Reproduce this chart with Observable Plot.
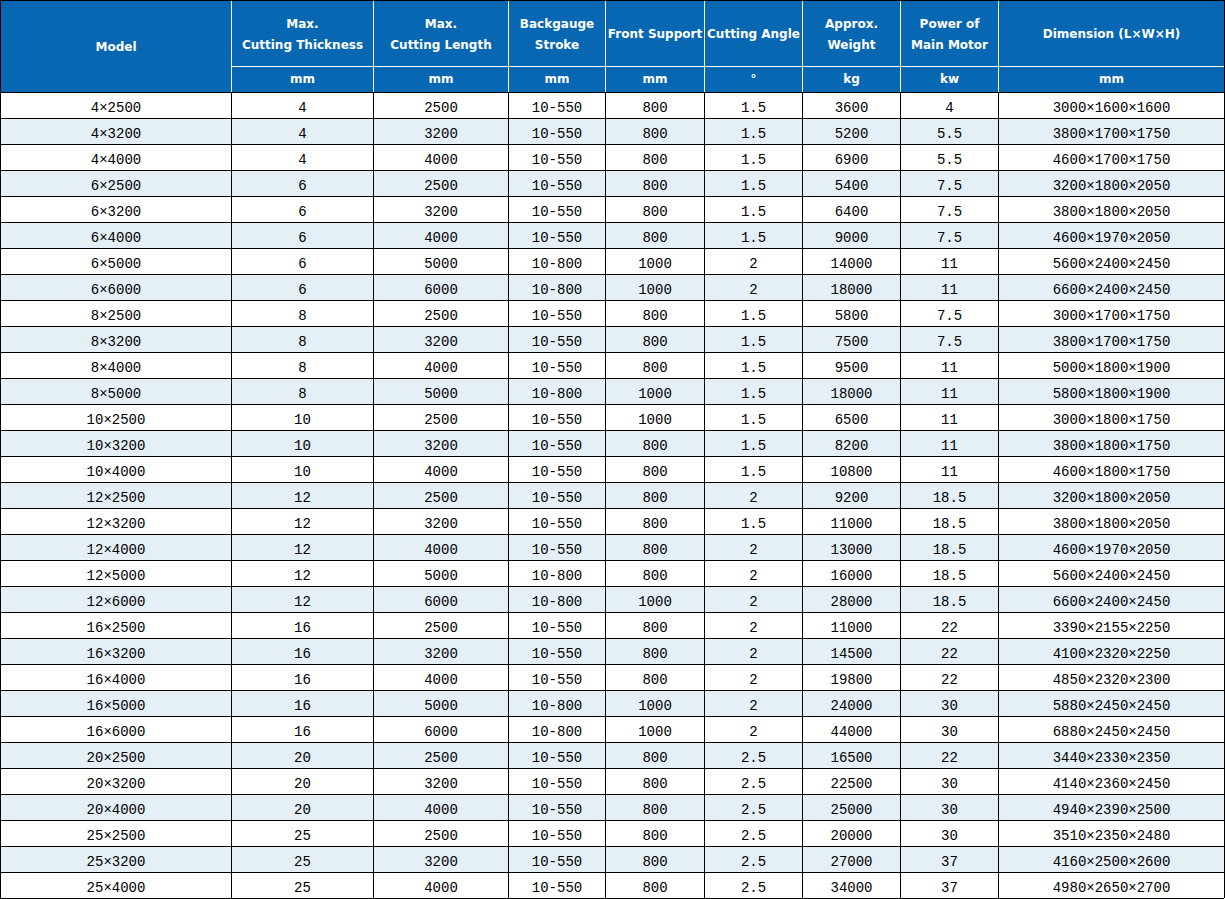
<!DOCTYPE html>
<html>
<head>
<meta charset="utf-8">
<script src="https://cdn.jsdelivr.net/npm/d3@7"></script>
<script src="https://cdn.jsdelivr.net/npm/@observablehq/plot@0.6"></script>
<style>
html,body{margin:0;padding:0;background:#fff;}
#chart svg{display:block;}
</style>
</head>
<body>
<div id="chart"></div>
<script>
// ---- data ----
const headers = ["Model", "Max.\nCutting Thickness", "Max.\nCutting Length", "Backgauge\nStroke", "Front Support", "Cutting Angle", "Approx.\nWeight", "Power of\nMain Motor", "Dimension (L×W×H)"];
const units = ["", "mm", "mm", "mm", "mm", "°", "kg", "kw", "mm"];
const models = ["4×2500","4×3200","4×4000","6×2500","6×3200","6×4000","6×5000","6×6000","8×2500","8×3200","8×4000","8×5000","10×2500","10×3200","10×4000","12×2500","12×3200","12×4000","12×5000","12×6000","16×2500","16×3200","16×4000","16×5000","16×6000","20×2500","20×3200","20×4000","25×2500","25×3200","25×4000"];
const thickness = ["4","4","4","6","6","6","6","6","8","8","8","8","10","10","10","12","12","12","12","12","16","16","16","16","16","20","20","20","25","25","25"];
const cutLength = ["2500","3200","4000","2500","3200","4000","5000","6000","2500","3200","4000","5000","2500","3200","4000","2500","3200","4000","5000","6000","2500","3200","4000","5000","6000","2500","3200","4000","2500","3200","4000"];
const backgauge = ["10-550","10-550","10-550","10-550","10-550","10-550","10-800","10-800","10-550","10-550","10-550","10-800","10-550","10-550","10-550","10-550","10-550","10-550","10-800","10-800","10-550","10-550","10-550","10-800","10-800","10-550","10-550","10-550","10-550","10-550","10-550"];
const frontSupport = ["800","800","800","800","800","800","1000","1000","800","800","800","1000","1000","800","800","800","800","800","800","1000","800","800","800","1000","1000","800","800","800","800","800","800"];
const cutAngle = ["1.5","1.5","1.5","1.5","1.5","1.5","2","2","1.5","1.5","1.5","1.5","1.5","1.5","1.5","2","1.5","2","2","2","2","2","2","2","2","2.5","2.5","2.5","2.5","2.5","2.5"];
const weight = ["3600","5200","6900","5400","6400","9000","14000","18000","5800","7500","9500","18000","6500","8200","10800","9200","11000","13000","16000","28000","11000","14500","19800","24000","44000","16500","22500","25000","20000","27000","34000"];
const power = ["4","5.5","5.5","7.5","7.5","7.5","11","11","7.5","7.5","11","11","11","11","11","18.5","18.5","18.5","18.5","18.5","22","22","22","30","30","22","30","30","30","37","37"];
const dimension = ["3000×1600×1600","3800×1700×1750","4600×1700×1750","3200×1800×2050","3800×1800×2050","4600×1970×2050","5600×2400×2450","6600×2400×2450","3000×1700×1750","3800×1700×1750","5000×1800×1900","5800×1800×1900","3000×1800×1750","3800×1800×1750","4600×1800×1750","3200×1800×2050","3800×1800×2050","4600×1970×2050","5600×2400×2450","6600×2400×2450","3390×2155×2250","4100×2320×2250","4850×2320×2300","5880×2450×2450","6880×2450×2450","3440×2330×2350","4140×2360×2450","4940×2390×2500","3510×2350×2480","4160×2500×2600","4980×2650×2700"];

// ---- layout ----
const W = 1225, H = 899;
const colWidths = [231, 142, 135, 97, 99, 98, 98, 98, 226];
const head1 = 66, head2 = 26, rowH = 26;
const headerBlue = "#0767b2", stripe = "#e4eff6";
const columns = [models, thickness, cutLength, backgauge, frontSupport, cutAngle, weight, power, dimension];

const edges = [0];
colWidths.forEach(w => edges.push(edges[edges.length - 1] + w));
const nRows = models.length;
const dataTop = head1 + head2;

const rows = d3.range(nRows).map(i => ({i, y1: dataTop + i * rowH, y2: dataTop + (i + 1) * rowH}));
const cells = [];
columns.forEach((col, c) => col.forEach((v, i) => cells.push({text: v, x: (edges[c] + edges[c + 1]) / 2, y: dataTop + i * rowH + rowH / 2})));
const headCells = headers.map((h, c) => ({text: h, x: (edges[c] + edges[c + 1]) / 2, y: c === 0 ? (head1 + head2) / 2 : head1 / 2}));
const unitCells = units.map((u, c) => ({text: u, x: (edges[c] + edges[c + 1]) / 2, y: head1 + head2 / 2})).filter(d => d.text);

const dataFont = "'Liberation Mono', 'Noto Sans CJK SC', monospace";
const headFont = "'DejaVu Sans', Verdana, sans-serif";

const chart = Plot.plot({
  width: W, height: H,
  margin: 0,
  style: {background: "#fff"},
  x: {type: "linear", domain: [0, W], range: [0, W], axis: null},
  y: {type: "linear", domain: [0, H], range: [0, H], axis: null},
  marks: [
    Plot.rect([{x1: 0, x2: edges[edges.length - 1], y1: 0, y2: dataTop}], {x1: "x1", x2: "x2", y1: "y1", y2: "y2", fill: headerBlue, inset: 0}),
    Plot.rect(rows.filter(r => r.i % 2 === 1), {x1: 0, x2: edges[edges.length - 1], y1: "y1", y2: "y2", fill: stripe, inset: 0}),
    Plot.ruleX(edges.slice(1, -1), {y1: 0, y2: dataTop, stroke: "#fff", strokeWidth: 1}),
    Plot.ruleY([head1], {x1: edges[1], x2: edges[edges.length - 1], stroke: "#fff", strokeWidth: 1}),
    Plot.ruleX(edges.slice(1, -1), {y1: dataTop, y2: H - 1, stroke: "#000", strokeWidth: 1}),
    Plot.ruleY(d3.range(nRows + 1).map(i => dataTop + i * rowH), {x1: 0, x2: edges[edges.length - 1], stroke: "#000", strokeWidth: 1}),
    Plot.ruleX([0, edges[edges.length - 1]], {y1: 0, y2: H - 1, stroke: "#000"}),
    Plot.ruleY([0], {x1: 0, x2: edges[edges.length - 1], stroke: "#000"}),
    Plot.text(headCells, {x: "x", y: "y", text: "text", fill: "#fff", fontWeight: "bold", fontSize: 12, fontFamily: headFont, lineHeight: 1.75, dy: -2}),
    Plot.text(unitCells, {x: "x", y: "y", text: "text", fill: "#fff", fontWeight: "bold", fontSize: 12, fontFamily: headFont}),
    Plot.text(cells, {x: "x", y: "y", text: "text", fill: "#000", fontSize: 14, fontFamily: dataFont, dy: 2})
  ]
});
document.getElementById("chart").appendChild(chart);
</script>
</body>
</html>
